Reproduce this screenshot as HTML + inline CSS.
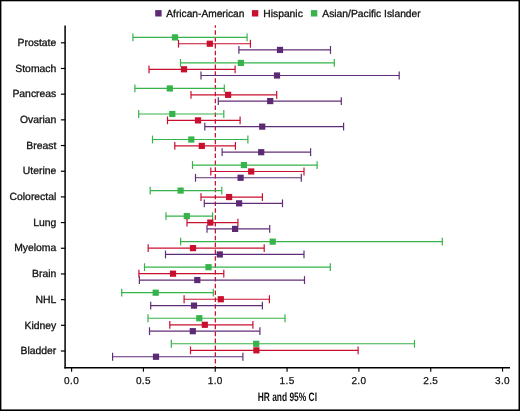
<!DOCTYPE html>
<html><head><meta charset="utf-8"><title>HR and 95% CI</title>
<style>html,body{margin:0;padding:0;background:#fff}body{width:520px;height:411px;overflow:hidden;position:relative}svg{display:block;position:absolute;left:0;top:0}text{font-family:"Liberation Sans",Arial,Helvetica,sans-serif;fill:#111;stroke:#111;stroke-width:0.3px;text-rendering:geometricPrecision}</style>
</head><body>
<svg width="520" height="411" viewBox="0 0 520 411">
<rect x="0" y="0" width="520" height="411" fill="#fff"/>
<rect x="0" y="0" width="520" height="1.3" fill="#000"/>
<rect x="0" y="0" width="1.4" height="411" fill="#000"/>
<rect x="518.5" y="0" width="1.5" height="411" fill="#000"/>
<rect x="0" y="409.4" width="520" height="1.6" fill="#000"/>
<rect x="155.20" y="10.10" width="6.4" height="6.4" fill="#5c2a72"/>
<text x="166.3" y="17" font-size="10.2">African-American</text>
<rect x="251.90" y="10.10" width="6.4" height="6.4" fill="#c8102e"/>
<text x="263.3" y="17" font-size="10.3">Hispanic</text>
<rect x="310.90" y="10.10" width="6.4" height="6.4" fill="#36b34a"/>
<text x="322.3" y="17" font-size="10.3">Asian/Pacific Islander</text>
<line x1="215.35" y1="25.2" x2="215.35" y2="367" stroke="#c8102e" stroke-width="1.25" stroke-dasharray="4.5 2.353" stroke-dashoffset="1.88"/>
<g stroke="#36b34a" stroke-width="1.2" fill="none"><line x1="132.9" y1="37.40" x2="247.1" y2="37.40"/><line x1="132.9" y1="33.50" x2="132.9" y2="41.30"/><line x1="247.1" y1="33.50" x2="247.1" y2="41.30"/></g>
<rect x="171.90" y="34.30" width="6.2" height="6.2" fill="#36b34a"/>
<g stroke="#c8102e" stroke-width="1.2" fill="none"><line x1="178.5" y1="43.73" x2="250.4" y2="43.73"/><line x1="178.5" y1="39.83" x2="178.5" y2="47.63"/><line x1="250.4" y1="39.83" x2="250.4" y2="47.63"/></g>
<rect x="206.70" y="40.63" width="6.2" height="6.2" fill="#c8102e"/>
<g stroke="#602e77" stroke-width="1.2" fill="none"><line x1="238.9" y1="49.93" x2="330.5" y2="49.93"/><line x1="238.9" y1="46.03" x2="238.9" y2="53.83"/><line x1="330.5" y1="46.03" x2="330.5" y2="53.83"/></g>
<rect x="276.90" y="46.83" width="6.2" height="6.2" fill="#5c2a72"/>
<g stroke="#36b34a" stroke-width="1.2" fill="none"><line x1="180.5" y1="62.93" x2="334.3" y2="62.93"/><line x1="180.5" y1="59.03" x2="180.5" y2="66.83"/><line x1="334.3" y1="59.03" x2="334.3" y2="66.83"/></g>
<rect x="237.80" y="59.83" width="6.2" height="6.2" fill="#36b34a"/>
<g stroke="#c8102e" stroke-width="1.2" fill="none"><line x1="149" y1="69.28" x2="235.1" y2="69.28"/><line x1="149" y1="65.38" x2="149" y2="73.18"/><line x1="235.1" y1="65.38" x2="235.1" y2="73.18"/></g>
<rect x="180.90" y="66.18" width="6.2" height="6.2" fill="#c8102e"/>
<g stroke="#602e77" stroke-width="1.2" fill="none"><line x1="201" y1="75.50" x2="399.2" y2="75.50"/><line x1="201" y1="71.60" x2="201" y2="79.40"/><line x1="399.2" y1="71.60" x2="399.2" y2="79.40"/></g>
<rect x="273.90" y="72.40" width="6.2" height="6.2" fill="#5c2a72"/>
<g stroke="#36b34a" stroke-width="1.2" fill="none"><line x1="134.9" y1="88.46" x2="224.3" y2="88.46"/><line x1="134.9" y1="84.56" x2="134.9" y2="92.36"/><line x1="224.3" y1="84.56" x2="224.3" y2="92.36"/></g>
<rect x="166.70" y="85.36" width="6.2" height="6.2" fill="#36b34a"/>
<g stroke="#c8102e" stroke-width="1.2" fill="none"><line x1="191" y1="94.83" x2="276.7" y2="94.83"/><line x1="191" y1="90.93" x2="191" y2="98.73"/><line x1="276.7" y1="90.93" x2="276.7" y2="98.73"/></g>
<rect x="225.00" y="91.73" width="6.2" height="6.2" fill="#c8102e"/>
<g stroke="#602e77" stroke-width="1.2" fill="none"><line x1="218.3" y1="101.07" x2="341.3" y2="101.07"/><line x1="218.3" y1="97.17" x2="218.3" y2="104.97"/><line x1="341.3" y1="97.17" x2="341.3" y2="104.97"/></g>
<rect x="267.10" y="97.97" width="6.2" height="6.2" fill="#5c2a72"/>
<g stroke="#36b34a" stroke-width="1.2" fill="none"><line x1="138.7" y1="113.99" x2="223.8" y2="113.99"/><line x1="138.7" y1="110.09" x2="138.7" y2="117.89"/><line x1="223.8" y1="110.09" x2="223.8" y2="117.89"/></g>
<rect x="169.20" y="110.89" width="6.2" height="6.2" fill="#36b34a"/>
<g stroke="#c8102e" stroke-width="1.2" fill="none"><line x1="167.5" y1="120.38" x2="240.1" y2="120.38"/><line x1="167.5" y1="116.48" x2="167.5" y2="124.28"/><line x1="240.1" y1="116.48" x2="240.1" y2="124.28"/></g>
<rect x="194.90" y="117.28" width="6.2" height="6.2" fill="#c8102e"/>
<g stroke="#602e77" stroke-width="1.2" fill="none"><line x1="204.8" y1="126.63" x2="343.6" y2="126.63"/><line x1="204.8" y1="122.73" x2="204.8" y2="130.53"/><line x1="343.6" y1="122.73" x2="343.6" y2="130.53"/></g>
<rect x="259.10" y="123.53" width="6.2" height="6.2" fill="#5c2a72"/>
<g stroke="#36b34a" stroke-width="1.2" fill="none"><line x1="152.5" y1="139.52" x2="247.9" y2="139.52"/><line x1="152.5" y1="135.62" x2="152.5" y2="143.42"/><line x1="247.9" y1="135.62" x2="247.9" y2="143.42"/></g>
<rect x="188.20" y="136.42" width="6.2" height="6.2" fill="#36b34a"/>
<g stroke="#c8102e" stroke-width="1.2" fill="none"><line x1="174.8" y1="145.93" x2="235.4" y2="145.93"/><line x1="174.8" y1="142.03" x2="174.8" y2="149.83"/><line x1="235.4" y1="142.03" x2="235.4" y2="149.83"/></g>
<rect x="198.70" y="142.83" width="6.2" height="6.2" fill="#c8102e"/>
<g stroke="#602e77" stroke-width="1.2" fill="none"><line x1="222.1" y1="152.20" x2="310.6" y2="152.20"/><line x1="222.1" y1="148.30" x2="222.1" y2="156.10"/><line x1="310.6" y1="148.30" x2="310.6" y2="156.10"/></g>
<rect x="258.10" y="149.10" width="6.2" height="6.2" fill="#5c2a72"/>
<g stroke="#36b34a" stroke-width="1.2" fill="none"><line x1="192.5" y1="165.05" x2="317.1" y2="165.05"/><line x1="192.5" y1="161.15" x2="192.5" y2="168.95"/><line x1="317.1" y1="161.15" x2="317.1" y2="168.95"/></g>
<rect x="240.80" y="161.95" width="6.2" height="6.2" fill="#36b34a"/>
<g stroke="#c8102e" stroke-width="1.2" fill="none"><line x1="210.8" y1="171.48" x2="304" y2="171.48"/><line x1="210.8" y1="167.58" x2="210.8" y2="175.38"/><line x1="304" y1="167.58" x2="304" y2="175.38"/></g>
<rect x="248.10" y="168.38" width="6.2" height="6.2" fill="#c8102e"/>
<g stroke="#602e77" stroke-width="1.2" fill="none"><line x1="195.5" y1="177.77" x2="301.3" y2="177.77"/><line x1="195.5" y1="173.87" x2="195.5" y2="181.67"/><line x1="301.3" y1="173.87" x2="301.3" y2="181.67"/></g>
<rect x="237.50" y="174.67" width="6.2" height="6.2" fill="#5c2a72"/>
<g stroke="#36b34a" stroke-width="1.2" fill="none"><line x1="150.2" y1="190.58" x2="221.8" y2="190.58"/><line x1="150.2" y1="186.68" x2="150.2" y2="194.48"/><line x1="221.8" y1="186.68" x2="221.8" y2="194.48"/></g>
<rect x="177.50" y="187.48" width="6.2" height="6.2" fill="#36b34a"/>
<g stroke="#c8102e" stroke-width="1.2" fill="none"><line x1="201" y1="197.03" x2="262.4" y2="197.03"/><line x1="201" y1="193.13" x2="201" y2="200.93"/><line x1="262.4" y1="193.13" x2="262.4" y2="200.93"/></g>
<rect x="226.00" y="193.93" width="6.2" height="6.2" fill="#c8102e"/>
<g stroke="#602e77" stroke-width="1.2" fill="none"><line x1="204.3" y1="203.34" x2="282.5" y2="203.34"/><line x1="204.3" y1="199.44" x2="204.3" y2="207.24"/><line x1="282.5" y1="199.44" x2="282.5" y2="207.24"/></g>
<rect x="236.00" y="200.24" width="6.2" height="6.2" fill="#5c2a72"/>
<g stroke="#36b34a" stroke-width="1.2" fill="none"><line x1="166" y1="216.11" x2="212.6" y2="216.11"/><line x1="166" y1="212.21" x2="166" y2="220.01"/><line x1="212.6" y1="212.21" x2="212.6" y2="220.01"/></g>
<rect x="183.70" y="213.01" width="6.2" height="6.2" fill="#36b34a"/>
<g stroke="#c8102e" stroke-width="1.2" fill="none"><line x1="187" y1="222.58" x2="237.9" y2="222.58"/><line x1="187" y1="218.68" x2="187" y2="226.48"/><line x1="237.9" y1="218.68" x2="237.9" y2="226.48"/></g>
<rect x="207.20" y="219.48" width="6.2" height="6.2" fill="#c8102e"/>
<g stroke="#602e77" stroke-width="1.2" fill="none"><line x1="207" y1="228.91" x2="269.7" y2="228.91"/><line x1="207" y1="225.01" x2="207" y2="232.81"/><line x1="269.7" y1="225.01" x2="269.7" y2="232.81"/></g>
<rect x="232.00" y="225.81" width="6.2" height="6.2" fill="#5c2a72"/>
<g stroke="#36b34a" stroke-width="1.2" fill="none"><line x1="180.6" y1="241.64" x2="442.3" y2="241.64"/><line x1="180.6" y1="237.74" x2="180.6" y2="245.54"/><line x1="442.3" y1="237.74" x2="442.3" y2="245.54"/></g>
<rect x="269.60" y="238.54" width="6.2" height="6.2" fill="#36b34a"/>
<g stroke="#c8102e" stroke-width="1.2" fill="none"><line x1="148.2" y1="248.13" x2="264.2" y2="248.13"/><line x1="148.2" y1="244.23" x2="148.2" y2="252.03"/><line x1="264.2" y1="244.23" x2="264.2" y2="252.03"/></g>
<rect x="189.90" y="245.03" width="6.2" height="6.2" fill="#c8102e"/>
<g stroke="#602e77" stroke-width="1.2" fill="none"><line x1="165.5" y1="254.47" x2="304" y2="254.47"/><line x1="165.5" y1="250.57" x2="165.5" y2="258.37"/><line x1="304" y1="250.57" x2="304" y2="258.37"/></g>
<rect x="216.70" y="251.37" width="6.2" height="6.2" fill="#5c2a72"/>
<g stroke="#36b34a" stroke-width="1.2" fill="none"><line x1="144.5" y1="267.17" x2="330.3" y2="267.17"/><line x1="144.5" y1="263.27" x2="144.5" y2="271.07"/><line x1="330.3" y1="263.27" x2="330.3" y2="271.07"/></g>
<rect x="205.40" y="264.07" width="6.2" height="6.2" fill="#36b34a"/>
<g stroke="#c8102e" stroke-width="1.2" fill="none"><line x1="138.9" y1="273.68" x2="223.8" y2="273.68"/><line x1="138.9" y1="269.78" x2="138.9" y2="277.58"/><line x1="223.8" y1="269.78" x2="223.8" y2="277.58"/></g>
<rect x="169.90" y="270.58" width="6.2" height="6.2" fill="#c8102e"/>
<g stroke="#602e77" stroke-width="1.2" fill="none"><line x1="139.4" y1="280.04" x2="304.5" y2="280.04"/><line x1="139.4" y1="276.14" x2="139.4" y2="283.94"/><line x1="304.5" y1="276.14" x2="304.5" y2="283.94"/></g>
<rect x="194.20" y="276.94" width="6.2" height="6.2" fill="#5c2a72"/>
<g stroke="#36b34a" stroke-width="1.2" fill="none"><line x1="121.7" y1="292.70" x2="213.3" y2="292.70"/><line x1="121.7" y1="288.80" x2="121.7" y2="296.60"/><line x1="213.3" y1="288.80" x2="213.3" y2="296.60"/></g>
<rect x="152.60" y="289.60" width="6.2" height="6.2" fill="#36b34a"/>
<g stroke="#c8102e" stroke-width="1.2" fill="none"><line x1="184.1" y1="299.23" x2="269.4" y2="299.23"/><line x1="184.1" y1="295.33" x2="184.1" y2="303.13"/><line x1="269.4" y1="295.33" x2="269.4" y2="303.13"/></g>
<rect x="217.70" y="296.13" width="6.2" height="6.2" fill="#c8102e"/>
<g stroke="#602e77" stroke-width="1.2" fill="none"><line x1="150.7" y1="305.61" x2="262.4" y2="305.61"/><line x1="150.7" y1="301.71" x2="150.7" y2="309.51"/><line x1="262.4" y1="301.71" x2="262.4" y2="309.51"/></g>
<rect x="190.90" y="302.51" width="6.2" height="6.2" fill="#5c2a72"/>
<g stroke="#36b34a" stroke-width="1.2" fill="none"><line x1="148" y1="318.23" x2="285" y2="318.23"/><line x1="148" y1="314.33" x2="148" y2="322.13"/><line x1="285" y1="314.33" x2="285" y2="322.13"/></g>
<rect x="196.20" y="315.13" width="6.2" height="6.2" fill="#36b34a"/>
<g stroke="#c8102e" stroke-width="1.2" fill="none"><line x1="169.8" y1="324.78" x2="252.9" y2="324.78"/><line x1="169.8" y1="320.88" x2="169.8" y2="328.68"/><line x1="252.9" y1="320.88" x2="252.9" y2="328.68"/></g>
<rect x="201.70" y="321.68" width="6.2" height="6.2" fill="#c8102e"/>
<g stroke="#602e77" stroke-width="1.2" fill="none"><line x1="149.5" y1="331.18" x2="259.9" y2="331.18"/><line x1="149.5" y1="327.28" x2="149.5" y2="335.08"/><line x1="259.9" y1="327.28" x2="259.9" y2="335.08"/></g>
<rect x="189.70" y="328.08" width="6.2" height="6.2" fill="#5c2a72"/>
<g stroke="#36b34a" stroke-width="1.2" fill="none"><line x1="171.3" y1="343.76" x2="414.5" y2="343.76"/><line x1="171.3" y1="339.86" x2="171.3" y2="347.66"/><line x1="414.5" y1="339.86" x2="414.5" y2="347.66"/></g>
<rect x="253.10" y="340.66" width="6.2" height="6.2" fill="#36b34a"/>
<g stroke="#c8102e" stroke-width="1.2" fill="none"><line x1="190.5" y1="350.33" x2="358.1" y2="350.33"/><line x1="190.5" y1="346.43" x2="190.5" y2="354.23"/><line x1="358.1" y1="346.43" x2="358.1" y2="354.23"/></g>
<rect x="253.30" y="347.23" width="6.2" height="6.2" fill="#c8102e"/>
<g stroke="#602e77" stroke-width="1.2" fill="none"><line x1="112.6" y1="356.75" x2="242.9" y2="356.75"/><line x1="112.6" y1="352.85" x2="112.6" y2="360.65"/><line x1="242.9" y1="352.85" x2="242.9" y2="360.65"/></g>
<rect x="152.90" y="353.65" width="6.2" height="6.2" fill="#5c2a72"/>
<g stroke="#000" stroke-width="1.5" fill="none" stroke-linejoin="miter">
<line x1="65.1" y1="25.4" x2="65.1" y2="368.4"/>
<line x1="64.39999999999999" y1="367.7" x2="510" y2="367.7"/>
<line x1="60.9" y1="42.80" x2="65.1" y2="42.80" stroke-width="1.2"/>
<line x1="60.9" y1="68.48" x2="65.1" y2="68.48" stroke-width="1.2"/>
<line x1="60.9" y1="94.17" x2="65.1" y2="94.17" stroke-width="1.2"/>
<line x1="60.9" y1="119.85" x2="65.1" y2="119.85" stroke-width="1.2"/>
<line x1="60.9" y1="145.53" x2="65.1" y2="145.53" stroke-width="1.2"/>
<line x1="60.9" y1="171.21" x2="65.1" y2="171.21" stroke-width="1.2"/>
<line x1="60.9" y1="196.90" x2="65.1" y2="196.90" stroke-width="1.2"/>
<line x1="60.9" y1="222.58" x2="65.1" y2="222.58" stroke-width="1.2"/>
<line x1="60.9" y1="248.26" x2="65.1" y2="248.26" stroke-width="1.2"/>
<line x1="60.9" y1="273.95" x2="65.1" y2="273.95" stroke-width="1.2"/>
<line x1="60.9" y1="299.63" x2="65.1" y2="299.63" stroke-width="1.2"/>
<line x1="60.9" y1="325.31" x2="65.1" y2="325.31" stroke-width="1.2"/>
<line x1="60.9" y1="351.00" x2="65.1" y2="351.00" stroke-width="1.2"/>
<line x1="71.60" y1="367.7" x2="71.60" y2="371.7" stroke-width="1.15"/>
<line x1="143.43" y1="367.7" x2="143.43" y2="371.7" stroke-width="1.15"/>
<line x1="215.25" y1="367.7" x2="215.25" y2="371.7" stroke-width="1.15"/>
<line x1="287.08" y1="367.7" x2="287.08" y2="371.7" stroke-width="1.15"/>
<line x1="358.90" y1="367.7" x2="358.90" y2="371.7" stroke-width="1.15"/>
<line x1="430.73" y1="367.7" x2="430.73" y2="371.7" stroke-width="1.15"/>
<line x1="502.55" y1="367.7" x2="502.55" y2="371.7" stroke-width="1.15"/>
</g>
<text x="56.3" y="46.00" font-size="10.4" text-anchor="end">Prostate</text>
<text x="56.3" y="71.68" font-size="10.4" text-anchor="end">Stomach</text>
<text x="56.3" y="97.37" font-size="10.4" text-anchor="end">Pancreas</text>
<text x="56.3" y="123.05" font-size="10.4" text-anchor="end">Ovarian</text>
<text x="56.3" y="148.73" font-size="10.4" text-anchor="end">Breast</text>
<text x="56.3" y="174.41" font-size="10.4" text-anchor="end">Uterine</text>
<text x="56.3" y="200.10" font-size="10.4" text-anchor="end">Colorectal</text>
<text x="56.3" y="225.78" font-size="10.4" text-anchor="end">Lung</text>
<text x="56.3" y="251.46" font-size="10.4" text-anchor="end">Myeloma</text>
<text x="56.3" y="277.15" font-size="10.4" text-anchor="end">Brain</text>
<text x="56.3" y="302.83" font-size="10.4" text-anchor="end">NHL</text>
<text x="56.3" y="328.51" font-size="10.4" text-anchor="end">Kidney</text>
<text x="56.3" y="354.20" font-size="10.4" text-anchor="end">Bladder</text>
<text x="71.60" y="384" font-size="10" letter-spacing="0.35" style="stroke-width:0.25px" text-anchor="middle">0.0</text>
<text x="143.43" y="384" font-size="10" letter-spacing="0.35" style="stroke-width:0.25px" text-anchor="middle">0.5</text>
<text x="215.25" y="384" font-size="10" letter-spacing="0.35" style="stroke-width:0.25px" text-anchor="middle">1.0</text>
<text x="287.08" y="384" font-size="10" letter-spacing="0.35" style="stroke-width:0.25px" text-anchor="middle">1.5</text>
<text x="358.90" y="384" font-size="10" letter-spacing="0.35" style="stroke-width:0.25px" text-anchor="middle">2.0</text>
<text x="430.73" y="384" font-size="10" letter-spacing="0.35" style="stroke-width:0.25px" text-anchor="middle">2.5</text>
<text x="502.55" y="384" font-size="10" letter-spacing="0.35" style="stroke-width:0.25px" text-anchor="middle">3.0</text>
<text x="257.7" y="401.2" font-size="12.2" font-weight="bold" style="stroke:none" textLength="59.3" lengthAdjust="spacingAndGlyphs">HR and 95% CI</text>
</svg></body></html>
